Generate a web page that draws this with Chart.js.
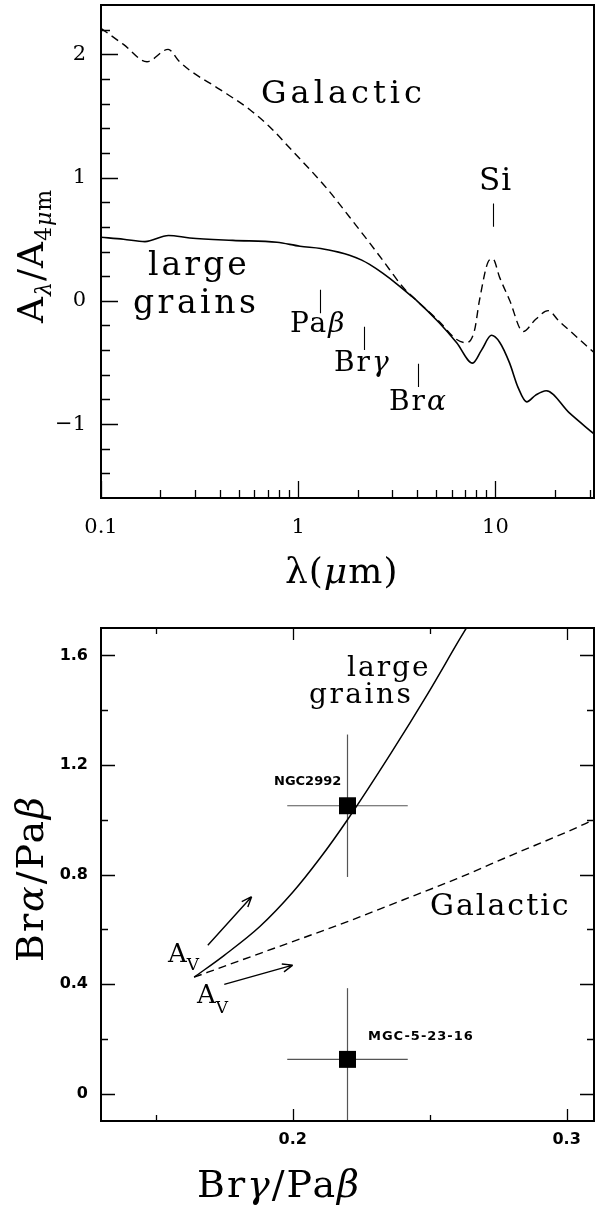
<!DOCTYPE html>
<html>
<head>
<meta charset="utf-8">
<script src="https://cdn.jsdelivr.net/npm/chart.js@4.4.0/dist/chart.umd.min.js"></script>
<style>
  html, body { margin: 0; padding: 0; background: #fff; }
  canvas { display: block; }
</style>
</head>
<body>
<canvas id="extChart" width="597" height="600"></canvas>
<canvas id="ratioChart" width="597" height="607"></canvas>
<script>
const SERIF = '"DejaVu Serif", "Liberation Serif", serif';
const SANS = '"DejaVu Sans", "Liberation Sans", sans-serif';

/* ── top panel: log(A_lambda / A_4um) vs wavelength ───────── */
const galLambda = [0.1, 0.13, 0.171, 0.219, 0.25, 0.282, 0.396, 0.569, 0.718, 0.93, 1.4, 1.82, 2.3, 2.68, 3.4, 4.0, 5.2, 6.3, 7.1, 7.83, 8.3, 9.3, 9.7, 10.5, 11.8, 13.8, 16, 18.5, 21, 23.7, 31.6];
const galExt    = [2.21, 2.08, 1.94, 2.04, 1.94, 1.87, 1.72, 1.55, 1.41, 1.22, 0.91, 0.68, 0.47, 0.33, 0.11, 0.0, -0.17, -0.31, -0.34, -0.24, 0.005, 0.33, 0.34, 0.19, 0.005, -0.25, -0.15, -0.08, -0.165, -0.24, -0.42];

const lgLambda = [0.1, 0.13, 0.167, 0.22, 0.282, 0.466, 0.78, 1.02, 1.3, 1.6, 1.82, 2.1, 2.3, 2.68, 3.2, 3.67, 4.0, 5.2, 6.36, 7.66, 8.5, 9.55, 10.5, 11.8, 13, 14.4, 16, 18.1, 23.7, 31.6];
const lgExt    = [0.516, 0.50, 0.48, 0.53, 0.51, 0.49, 0.475, 0.443, 0.425, 0.395, 0.37, 0.33, 0.295, 0.224, 0.13, 0.05, 0.0, -0.18, -0.34, -0.506, -0.40, -0.28, -0.336, -0.506, -0.70, -0.82, -0.765, -0.73, -0.91, -1.08];

const extXTicks  = [0.1, 1, 10];
const extXLabels = ['0.1', '1', '10'];
const extYTicks  = [-1, 0, 1, 2];
const extYLabels = ['\u22121', '0', '1', '2'];

// emission line markers
const lineLambda  = [1.282, 2.166, 4.05, 9.7];
const lineMarkTop = [0.09, -0.21, -0.51, 0.79];
const lineMarkBot = [-0.10, -0.40, -0.70, 0.60];

/* ── bottom panel: Bra/Pab vs Brg/Pab ─────────────────────── */
const lgRatioX  = [0.164, 0.175, 0.188, 0.20, 0.21, 0.22, 0.236, 0.249, 0.261, 0.2634];
const lgRatioY  = [0.425, 0.505, 0.610, 0.735, 0.86, 1.0, 1.245, 1.455, 1.66, 1.70];
const galRatioX = [0.164, 0.18, 0.20, 0.22, 0.24, 0.26, 0.28, 0.30, 0.31];
const galRatioY = [0.425, 0.483, 0.555, 0.628, 0.706, 0.785, 0.871, 0.955, 1.0];

const objNames = ['NGC2992', 'MGC-5-23-16'];
const objX     = [0.22, 0.22];
const objY     = [1.051, 0.125];
const objXErr  = [0.022, 0.022];
const objYErr  = [0.26, 0.26];

// A_V reddening arrows
const avFromX = [0.169, 0.175];
const avFromY = [0.542, 0.399];
const avToX   = [0.185, 0.200];
const avToY   = [0.719, 0.469];

const ratioXTicks  = [0.2, 0.3];
const ratioXLabels = ['0.2', '0.3'];
const ratioYTicks  = [0, 0.4, 0.8, 1.2, 1.6];
const ratioYLabels = ['0', '0.4', '0.8', '1.2', '1.6'];

/* ── helpers ──────────────────────────────────────────────── */
function pts(xs, ys) {
    return xs.map((x, i) => ({ x: x, y: ys[i] }));
}

function drawRich(ctx, item) {
    ctx.save();
    ctx.translate(item.x, item.y);
    if (item.rot) ctx.rotate(item.rot);
    ctx.fillStyle = '#000';
    ctx.textAlign = 'left';
    ctx.textBaseline = 'alphabetic';
    let cx = 0;
    item.segs.forEach(s => {
        const size = s.size || item.size;
        ctx.font = (s.it ? 'italic ' : '') + (item.weight || 'normal') + ' ' + size + 'px ' + (item.family || SERIF);
        ctx.letterSpacing = (item.ls || 0) + 'px';
        ctx.fillText(s.t, cx, s.dy || 0);
        cx += ctx.measureText(s.t).width;
    });
    ctx.restore();
}

// keep the scales from pushing the plot area around for their labels
function noPad(s) {
    s.paddingTop = 0; s.paddingBottom = 0; s.paddingLeft = 0; s.paddingRight = 0;
}

// box + inward tick marks, built from the chart's own scales
function framePlugin(cfg) {
    return {
        id: 'frame',
        afterDatasetsDraw(chart) {
            const { ctx, chartArea: a } = chart;
            const sx = chart.scales.x, sy = chart.scales.y;
            ctx.save();
            ctx.strokeStyle = '#000';
            ctx.lineWidth = 1.3;
            ctx.beginPath();
            const xt = (vals, len) => vals.forEach(v => {
                const p = Math.round(sx.getPixelForValue(v)) + 0.5;
                ctx.moveTo(p, a.bottom); ctx.lineTo(p, a.bottom - len);
                if (cfg.mirror) { ctx.moveTo(p, a.top); ctx.lineTo(p, a.top + len); }
            });
            const yt = (vals, len) => vals.forEach(v => {
                const p = Math.round(sy.getPixelForValue(v)) + 0.5;
                ctx.moveTo(a.left, p); ctx.lineTo(a.left + len, p);
                if (cfg.mirror) { ctx.moveTo(a.right, p); ctx.lineTo(a.right - len, p); }
            });
            xt(cfg.xMajor, cfg.xMajorLen);
            xt(cfg.xMinor, cfg.xMinorLen);
            yt(cfg.yMajor, cfg.yMajorLen);
            yt(cfg.yMinor, cfg.yMinorLen);
            ctx.stroke();
            ctx.lineWidth = 2;
            ctx.strokeRect(a.left, a.top, a.right - a.left, a.bottom - a.top);
            ctx.restore();
        }
    };
}

function notesPlugin(items, extra) {
    return {
        id: 'notes',
        afterDraw(chart) {
            const ctx = chart.ctx;
            if (extra) extra(chart);
            items.forEach(it => drawRich(ctx, it));
        }
    };
}

/* ── top chart ────────────────────────────────────────────── */
const extXMinor = [];
[0.1, 1, 10].forEach(d => {
    for (let k = 2; k <= 9; k++) if (k * d <= 31.6) extXMinor.push(k * d);
});
const extYMinor = [];
for (let i = -7; i <= 11; i++) if (i % 5 !== 0) extYMinor.push(i / 5);

const topNotes = [
    { x: 261, y: 103, size: 32, ls: 4, segs: [{ t: 'Galactic' }] },
    { x: 148, y: 275, size: 33, ls: 3, segs: [{ t: 'large' }] },
    { x: 133, y: 313, size: 33, ls: 3.5, segs: [{ t: 'grains' }] },
    { x: 479, y: 190, size: 31, ls: 1, segs: [{ t: 'Si' }] },
    { x: 290, y: 332, size: 28, ls: 2, segs: [{ t: 'Pa' }, { t: '\u03b2', it: true }] },
    { x: 334, y: 371, size: 28, ls: 2, segs: [{ t: 'Br' }, { t: '\u03b3', it: true }] },
    { x: 389, y: 410, size: 28, ls: 2, segs: [{ t: 'Br' }, { t: '\u03b1', it: true }] },
    { x: 285, y: 583, size: 36, ls: 1, segs: [{ t: '\u03bb(' }, { t: '\u03bc', it: true }, { t: 'm)' }] },
    { x: 43, y: 323, rot: -Math.PI / 2, size: 36, ls: 1, segs: [
        { t: 'A' }, { t: '\u03bb', size: 22, dy: 8, it: true }, { t: '/' }, { t: 'A' },
        { t: '4', size: 22, dy: 8 }, { t: '\u03bc', size: 22, dy: 8, it: true }, { t: 'm', size: 22, dy: 8 }] }
];

function drawLineMarks(chart) {
    const { ctx, scales: { x, y } } = chart;
    ctx.save();
    ctx.strokeStyle = '#000';
    ctx.lineWidth = 1.1;
    ctx.beginPath();
    lineLambda.forEach((l, i) => {
        const px = Math.round(x.getPixelForValue(l)) + 0.5;
        ctx.moveTo(px, y.getPixelForValue(lineMarkTop[i]));
        ctx.lineTo(px, y.getPixelForValue(lineMarkBot[i]));
    });
    ctx.stroke();
    ctx.restore();
}

new Chart(document.getElementById('extChart'), {
    type: 'scatter',
    data: {
        datasets: [
            {
                label: 'Galactic',
                data: pts(galLambda, galExt),
                showLine: true,
                borderColor: '#000',
                borderWidth: 1.4,
                borderDash: [8, 5],
                pointRadius: 0,
                cubicInterpolationMode: 'monotone'
            },
            {
                label: 'large grains',
                data: pts(lgLambda, lgExt),
                showLine: true,
                borderColor: '#000',
                borderWidth: 1.6,
                pointRadius: 0,
                cubicInterpolationMode: 'monotone'
            }
        ]
    },
    options: {
        responsive: false,
        animation: false,
        events: [],
        layout: { padding: { top: 5, right: 3, left: 0, bottom: 0 }, autoPadding: false },
        plugins: { legend: { display: false }, tooltip: { enabled: false } },
        scales: {
            x: {
                type: 'logarithmic',
                min: 0.1,
                max: 31.6,
                border: { display: false },
                grid: { display: false, drawTicks: false },
                afterBuildTicks: s => { s.ticks = extXTicks.map(v => ({ value: v })); },
                afterFit: s => { s.height = 102; noPad(s); },
                ticks: {
                    autoSkip: false, maxRotation: 0, padding: 17, color: '#000',
                    font: { family: SERIF, size: 21 },
                    callback: v => extXLabels[extXTicks.indexOf(v)] || ''
                }
            },
            y: {
                min: -1.6,
                max: 2.4,
                border: { display: false },
                grid: { display: false, drawTicks: false },
                afterBuildTicks: s => { s.ticks = extYTicks.map(v => ({ value: v })); },
                afterFit: s => { s.width = 101; noPad(s); },
                ticks: {
                    autoSkip: false, padding: 15, color: '#000',
                    font: { family: SERIF, size: 21 },
                    callback: v => extYLabels[extYTicks.indexOf(v)]
                }
            }
        }
    },
    plugins: [
        framePlugin({ xMajor: extXTicks, xMinor: extXMinor, yMajor: extYTicks, yMinor: extYMinor,
                      xMajorLen: 17, xMinorLen: 8, yMajorLen: 17, yMinorLen: 9, mirror: false }),
        notesPlugin(topNotes, drawLineMarks)
    ]
});

/* ── bottom chart ─────────────────────────────────────────── */
const ratioNotes = [
    { x: 347, y: 76, size: 28, ls: 2, segs: [{ t: 'large' }] },
    { x: 309, y: 103, size: 28, ls: 2.5, segs: [{ t: 'grains' }] },
    { x: 430, y: 315, size: 30, ls: 2, segs: [{ t: 'Galactic' }] },
    { x: 274, y: 185, size: 13, ls: 0, family: SANS, weight: 'bold', segs: [{ t: objNames[0] }] },
    { x: 368, y: 440, size: 13, ls: 1, family: SANS, weight: 'bold', segs: [{ t: objNames[1] }] },
    { x: 168, y: 362, size: 26, segs: [{ t: 'A' }, { t: 'V', size: 17, dy: 8 }] },
    { x: 197, y: 403, size: 26, segs: [{ t: 'A' }, { t: 'V', size: 17, dy: 10 }] },
    { x: 197, y: 597, size: 38, ls: 2, segs: [{ t: 'Br' }, { t: '\u03b3', it: true }, { t: '/Pa' }, { t: '\u03b2', it: true }] },
    { x: 43, y: 362, rot: -Math.PI / 2, size: 38, ls: 2, segs: [{ t: 'Br' }, { t: '\u03b1', it: true }, { t: '/Pa' }, { t: '\u03b2', it: true }] }
];

function drawArrows(chart) {
    const { ctx, scales: { x, y } } = chart;
    ctx.save();
    ctx.strokeStyle = '#000';
    ctx.lineWidth = 1.4;
    ctx.beginPath();
    avFromX.forEach((fx, i) => {
        const x0 = x.getPixelForValue(fx), y0 = y.getPixelForValue(avFromY[i]);
        const x1 = x.getPixelForValue(avToX[i]), y1 = y.getPixelForValue(avToY[i]);
        const ang = Math.atan2(y1 - y0, x1 - x0);
        ctx.moveTo(x0, y0); ctx.lineTo(x1, y1);
        [-0.38, 0.38].forEach(d => {
            ctx.moveTo(x1, y1);
            ctx.lineTo(x1 - 11 * Math.cos(ang + d), y1 - 11 * Math.sin(ang + d));
        });
    });
    ctx.stroke();
    ctx.restore();
}

const ratioSets = [
    {
        label: 'objects',
        data: pts(objX, objY),
        pointStyle: 'rect',
        pointRadius: 12,
        backgroundColor: '#000',
        borderColor: '#000',
        borderWidth: 0
    },
    {
        label: 'large grains',
        data: pts(lgRatioX, lgRatioY),
        showLine: true,
        borderColor: '#000',
        borderWidth: 1.5,
        pointRadius: 0,
        cubicInterpolationMode: 'monotone'
    },
    {
        label: 'Galactic',
        data: pts(galRatioX, galRatioY),
        showLine: true,
        borderColor: '#000',
        borderWidth: 1.4,
        borderDash: [8, 5],
        pointRadius: 0,
        cubicInterpolationMode: 'monotone'
    }
];
objX.forEach((ox, i) => {
    ratioSets.push({
        label: objNames[i] + ' xerr',
        data: [{ x: ox - objXErr[i], y: objY[i] }, { x: ox + objXErr[i], y: objY[i] }],
        showLine: true, borderColor: '#555', borderWidth: 1.2, pointRadius: 0
    });
    ratioSets.push({
        label: objNames[i] + ' yerr',
        data: [{ x: ox, y: objY[i] - objYErr[i] }, { x: ox, y: objY[i] + objYErr[i] }],
        showLine: true, borderColor: '#555', borderWidth: 1.2, pointRadius: 0
    });
});

new Chart(document.getElementById('ratioChart'), {
    type: 'scatter',
    data: { datasets: ratioSets },
    options: {
        responsive: false,
        animation: false,
        events: [],
        layout: { padding: { top: 28, right: 3, left: 0, bottom: 0 }, autoPadding: false },
        plugins: { legend: { display: false }, tooltip: { enabled: false } },
        scales: {
            x: {
                type: 'linear',
                min: 0.13,
                max: 0.31,
                border: { display: false },
                grid: { display: false, drawTicks: false },
                afterBuildTicks: s => { s.ticks = ratioXTicks.map(v => ({ value: v })); },
                afterFit: s => { s.height = 86; noPad(s); },
                ticks: {
                    autoSkip: false, maxRotation: 0, padding: 9, color: '#000',
                    font: { family: SANS, size: 16, weight: 'bold' },
                    callback: v => ratioXLabels[ratioXTicks.indexOf(v)] || ''
                }
            },
            y: {
                min: -0.1,
                max: 1.7,
                border: { display: false },
                grid: { display: false, drawTicks: false },
                afterBuildTicks: s => { s.ticks = ratioYTicks.map(v => ({ value: v })); },
                afterFit: s => { s.width = 101; noPad(s); },
                ticks: {
                    autoSkip: false, padding: 13, color: '#000',
                    font: { family: SANS, size: 16, weight: 'bold' },
                    callback: v => ratioYLabels[ratioYTicks.indexOf(v)]
                }
            }
        }
    },
    plugins: [
        framePlugin({ xMajor: ratioXTicks, xMinor: [0.15, 0.25], yMajor: ratioYTicks, yMinor: [0.2, 0.6, 1.0, 1.4],
                      xMajorLen: 12, xMinorLen: 6, yMajorLen: 14, yMinorLen: 7, mirror: true }),
        notesPlugin(ratioNotes, drawArrows)
    ]
});
</script>
</body>
</html>
